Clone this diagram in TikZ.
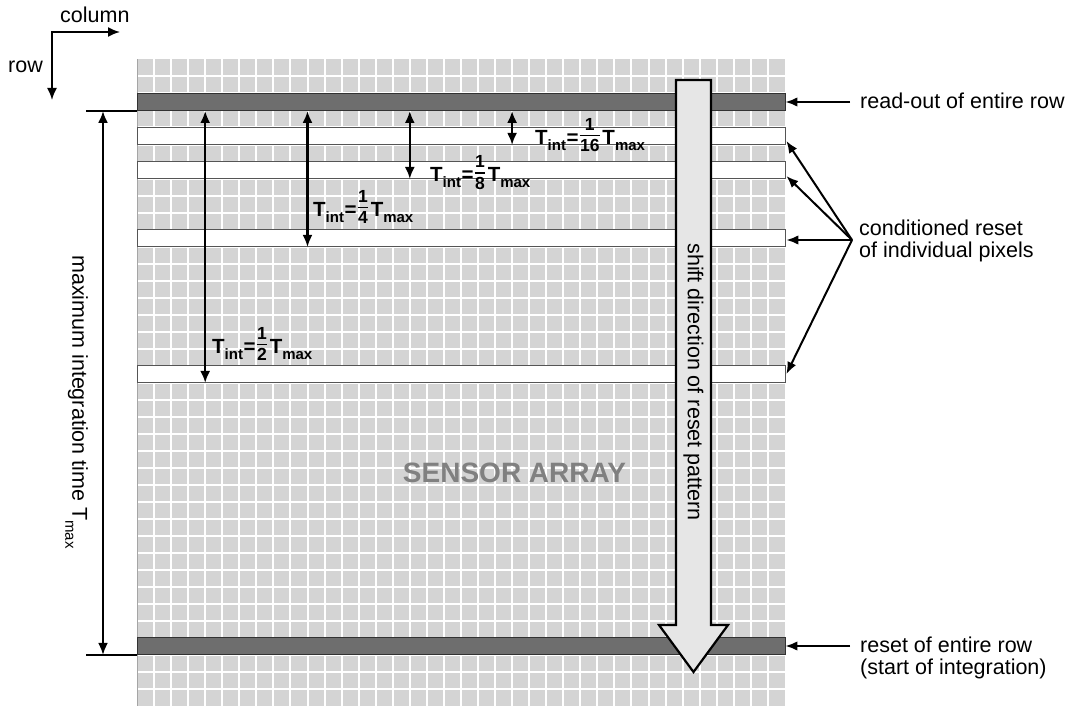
\documentclass[tikz,border=0pt]{standalone}
\usepackage{fontspec}
\setmainfont{Liberation Sans}
\usetikzlibrary{arrows.meta,calc}
\definecolor{cellgray}{RGB}{212,212,212}
\definecolor{barfill}{RGB}{110,110,110}
\definecolor{barline}{RGB}{50,50,50}
\definecolor{wbarline}{RGB}{85,85,85}
\definecolor{shaftfill}{RGB}{230,230,230}
\definecolor{sensorgray}{RGB}{128,128,128}
\definecolor{edgegray}{RGB}{165,165,165}
\newcommand{\myfr}[2]{\raisebox{2pt}{$\vcenter{\hbox{\fontsize{17.5}{17.5}\selectfont\bfseries\setlength{\tabcolsep}{0.5pt}\setlength{\arrayrulewidth}{1.3pt}\renewcommand{\arraystretch}{0.7}\begin{tabular}{c}#1\\[1pt]\hline\rule{0pt}{15.5pt}#2\end{tabular}}}$}}
\newcommand{\sbx}[1]{\raisebox{-6pt}{\fontsize{15}{15}\selectfont #1}}
\newcommand{\tlab}[1]{T\sbx{int}\kern0.5pt=\kern1pt\myfr{1}{#1}\kern2.5pt T\sbx{max}}
\begin{document}
\begin{tikzpicture}[x=1pt,y=-1pt,
 darkbar/.style={rectangle, draw=barline, fill=barfill, line width=0.9pt, minimum width=647.9pt, minimum height=17pt, inner sep=0pt},
 whitebar/.style={rectangle, draw=wbarline, fill=white, line width=0.9pt, minimum width=647.9pt, minimum height=17pt, inner sep=0pt},
 ptr/.style={line width=2pt, -{Latex[length=12pt,width=9.5pt]}},
 dimarr/.style={line width=2.2pt, {Latex[length=12pt,width=10pt]}-{Latex[length=12pt,width=10pt]}},
 tick/.style={line width=1.2pt},
 lbl/.style={font=\fontsize{21.5}{22}\selectfont, inner sep=0pt, align=left},
 tlbl/.style={font=\fontsize{20.5}{24}\selectfont\bfseries, inner sep=0pt},
]
\useasboundingbox (0,0) rectangle (1070,706);
% sensor grid
\fill[cellgray] (137,59.5) rectangle (785,706);
\foreach \k in {1,...,37} {
  \draw[white, line width=2pt] ({137+\k*17.05},59.5) -- ({137+\k*17.05},706);
  \draw[white, line width=2pt] (137,{59.5+\k*17}) -- (785,{59.5+\k*17});
}
\draw[edgegray, line width=0.8pt] (137,59.5) -- (137,706);
% rows
\node[darkbar] (bar2) at (461,102) {};
\node[whitebar] (bar4) at (461,136) {};
\node[whitebar] (bar6) at (461,170) {};
\node[whitebar] (bar10) at (461,238) {};
\node[whitebar] (bar18) at (461,374) {};
\node[darkbar] (bar34) at (461,646) {};
% shift arrow
\draw[line width=2.2pt, fill=shaftfill, line join=miter] (676,80) -- (711,80) -- (711,625) -- (728,625) -- (693.5,672) -- (659,625) -- (676,625) -- cycle;
\node[lbl, rotate=-90] (shifttxt) at (693.5,382) {shift direction of reset pattern};
% sensor array
\node[font=\fontsize{28}{30}\selectfont\bfseries, text=sensorgray, anchor=base, inner sep=0pt] (sensor) at (514.5,482.7) {SENSOR ARRAY};
% Tmax dimension
\coordinate (xA) at (103,0);
\coordinate (xB) at (205.2,0);
\coordinate (xC) at (307.5,0);
\coordinate (xD) at (409.8,0);
\coordinate (xE) at (512.1,0);
\draw[tick] (bar2.south west) -- ++(-51,0);
\draw[tick] (bar34.south west) -- ++(-51,0);
\draw[dimarr] (bar2.south -| xA) -- (bar34.south -| xA);
\node[lbl, rotate=-90] (tmaxtxt) at (76.5,402) {maximum integration time T\raisebox{-7pt}{\fontsize{15}{15}\selectfont max}};
% Tint arrows
\draw[dimarr] (bar2.south -| xB) -- (bar18.south -| xB);
\draw[dimarr] (bar2.south -| xC) -- (bar10.south -| xC);
\draw[dimarr] (bar2.south -| xD) -- (bar6.south -| xD);
\draw[dimarr] (bar2.south -| xE) -- (bar4.south -| xE);
\node[tlbl, anchor=base west] (l16) at (535,144) {\tlab{16}};
\node[tlbl, anchor=base west] (l8) at (430,181.5) {\tlab{8}};
\node[tlbl, anchor=base west] (l4) at (313,216) {\tlab{4}};
\node[tlbl, anchor=base west] (l2) at (212,353) {\tlab{2}};
% right labels
\node[lbl, anchor=base west] (readtxt) at (860,109) {read-out of entire row};
\node[lbl, anchor=west] (condtxt) at (859,240.5) {conditioned reset\\of individual pixels};
\node[lbl, anchor=west] (resettxt) at (860,658) {reset of entire row\\(start of integration)};
\coordinate (rdA) at (850,102);
\draw[ptr] (rdA) -- (bar2.east);
\coordinate (cond) at (852,240);
\draw[ptr] (cond) -- ($(bar4.east)+(1,5)$);
\draw[ptr] (cond) -- ($(bar6.east)+(1,6)$);
\draw[ptr] (cond) -- ($(bar10.east)+(1,2)$);
\draw[ptr] (cond) -- ($(bar18.east)+(1,0)$);
\coordinate (rsA) at (850,646);
\draw[ptr] (rsA) -- (bar34.east);
% row / column
\coordinate (rc) at (52,32);
\coordinate (colend) at (120,32);
\coordinate (rowend) at (52,100);
\draw[line width=1.8pt, line join=miter, {Latex[length=12pt,width=10pt]}-{Latex[length=12pt,width=10pt]}] (colend) -- (rc) -- (rowend);
\node[lbl, anchor=base west] (coltxt) at (60,23) {column};
\node[lbl, anchor=base west] (rowtxt) at (8,73) {row};
\end{tikzpicture}
\end{document}
